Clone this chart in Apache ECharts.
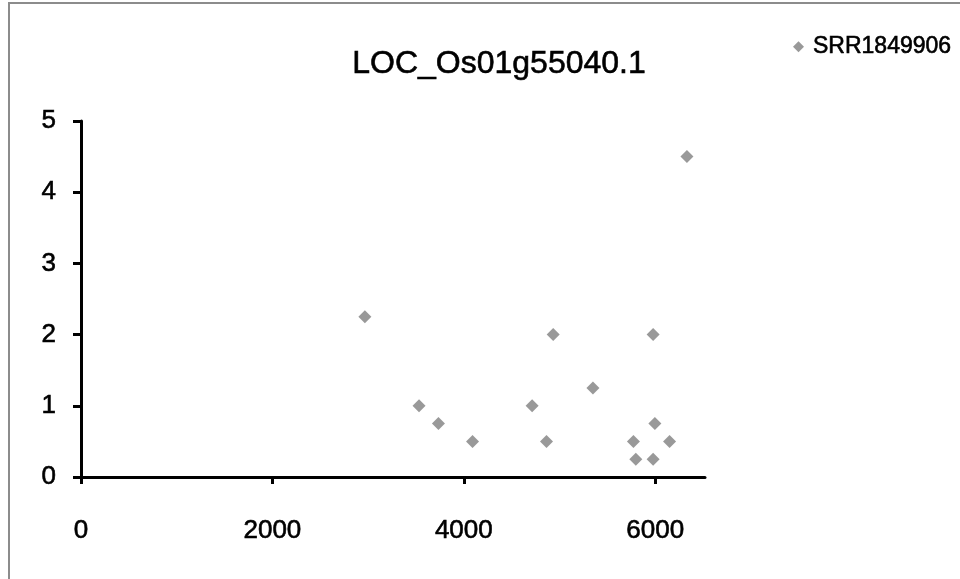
<!DOCTYPE html>
<html><head><meta charset="utf-8">
<script src="https://cdn.jsdelivr.net/npm/echarts@6/dist/echarts.min.js"></script>
<style>html,body{margin:0;padding:0;background:#fff}#c{width:960px;height:579px}</style>
</head><body><div id="c"></div>
<script>
const seriesName = 'SRR1849906';
const titleText = 'LOC_Os01g55040.1';
const xValues = [2966, 3532, 3735, 4091, 4714, 4864, 4934, 5349, 5772, 5797, 5978, 5996, 5978, 6150, 6331];
const yValues = [2.25, 1.0, 0.75, 0.5, 1.0, 0.5, 2.0, 1.25, 0.5, 0.25, 2.0, 0.75, 0.25, 0.5, 4.5];
const xTicks = [0, 2000, 4000, 6000];
const yTicks = [0, 1, 2, 3, 4, 5];

const chart = echarts.init(document.getElementById('c'));
const font = 'Liberation Sans';
const thick = { textBorderColor: '#000', textBorderWidth: 0.6 };
chart.setOption({
  animation: false,
  backgroundColor: '#fff',
  graphic: [{
    type: 'polyline', silent: true,
    shape: { points: [[9, 579], [9, 3], [960, 3]] },
    style: { stroke: '#8c8c8c', lineWidth: 2, fill: null }
  }],
  title: {
    text: titleText, left: 494, top: 43, textAlign: 'center',
    textStyle: Object.assign({ fontFamily: font, fontSize: 32, fontWeight: 'normal', color: '#000' }, thick)
  },
  legend: {
    left: 788, top: 30, itemWidth: 11, itemHeight: 11, itemGap: 4,
    icon: 'diamond',
    textStyle: Object.assign({ fontFamily: font, fontSize: 23, color: '#000', padding: [0, 0, 0, 4] }, thick),
    data: [seriesName]
  },
  grid: { left: 81, right: 255, top: 121, bottom: 102 },
  xAxis: {
    type: 'value', min: 0, max: 6520,
    axisLine: { show: true, onZero: false, lineStyle: { color: '#000', width: 3 } },
    axisTick: { show: true, length: 7, lineStyle: { color: '#000', width: 3 }, customValues: xTicks },
    axisLabel: Object.assign({ fontFamily: font, fontSize: 26, color: '#000', margin: 41,
      customValues: xTicks, formatter: v => String(v) }, thick),
    splitLine: { show: false }
  },
  yAxis: {
    type: 'value', min: 0, max: 5, interval: 1,
    axisLine: { show: true, onZero: false, lineStyle: { color: '#000', width: 3 } },
    axisTick: { show: true, length: 8, lineStyle: { color: '#000', width: 3 }, customValues: yTicks },
    axisLabel: Object.assign({ fontFamily: font, fontSize: 26, color: '#000', margin: 25,
      customValues: yTicks, formatter: v => String(v) }, thick),
    splitLine: { show: false }
  },
  series: [{
    name: seriesName, type: 'scatter', symbol: 'diamond', symbolSize: 13,
    itemStyle: { color: '#7f7f7f' },
    data: xValues.map((x, i) => [x, yValues[i]])
  }]
});
</script></body></html>
